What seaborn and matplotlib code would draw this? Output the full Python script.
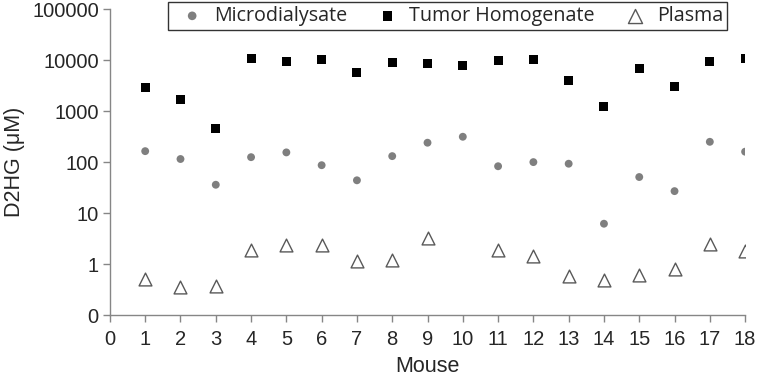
import numpy as np
import pandas as pd
import matplotlib
matplotlib.use("Agg")
import matplotlib.pyplot as plt
import seaborn as sns

# values (uM, log scale)
mouse = list(range(1, 19))
microdialysate = [164, 115, 36, 125, 155, 87, 44, 131, 240, 314, 83, 100, 93, 6.2, 51, 27, 250, 160]
tumor_homogenate = [2900, 1700, 460, 10800, 9300, 10400, 5700, 8800, 8600, 7900, 9700, 10100,
                    4000, 1250, 6900, 3100, 9400, 10800]
plasma = [0.51, 0.35, 0.38, 1.9, 2.35, 2.35, 1.15, 1.2, 3.3, np.nan, 1.9, 1.43,
          0.59, 0.48, 0.61, 0.79, 2.46, 1.78]

y_ticks = [0.1, 1, 10, 100, 1000, 10000, 100000]
y_tick_labels = ["0", "1", "10", "100", "1000", "10000", "100000"]

df = pd.DataFrame({"mouse": mouse, "micro": microdialysate,
                   "tumor": tumor_homogenate, "plasma": plasma})

sns.set_style("white")
plt.rcParams["font.family"] = ["Liberation Sans", "DejaVu Sans"]

fig = plt.figure(figsize=(7.58, 3.77), dpi=100)
ax = fig.add_axes([0.145, 0.164, 0.838, 0.812])

sns.scatterplot(data=df, x="mouse", y="micro", ax=ax, marker="o", s=32,
                color="#7f7f7f", edgecolor="none", label="Microdialysate")
sns.scatterplot(data=df, x="mouse", y="tumor", ax=ax, marker="s", s=42,
                color="black", edgecolor="none", label="Tumor Homogenate")
sns.scatterplot(data=df.dropna(), x="mouse", y="plasma", ax=ax, marker="^", s=85,
                facecolor="white", edgecolor="#595959", linewidth=1, label="Plasma")

ax.set_yscale("log")
ax.set_ylim(0.1, 100000)
ax.set_xlim(0, 18)
ax.set_yticks(y_ticks)
ax.set_yticklabels(y_tick_labels)
ax.yaxis.set_minor_locator(matplotlib.ticker.NullLocator())
ax.set_xticks(range(0, 19))

ax.set_xlabel("Mouse", fontsize=15.5, labelpad=5)
ax.set_ylabel("D2HG (\u03bcM)", fontsize=15.5, labelpad=5)
ax.tick_params(axis="both", labelsize=14.5, length=5, width=1, color="#868686",
               direction="out", left=True, bottom=True)
ax.tick_params(axis="x", pad=6)
ax.tick_params(axis="y", pad=3)

for side in ["top", "right"]:
    ax.spines[side].set_visible(False)
for side in ["left", "bottom"]:
    ax.spines[side].set_color("#868686")
    ax.spines[side].set_linewidth(1)

leg = ax.legend(loc="upper center", bbox_to_anchor=(0.532, 1.055), ncol=3, frameon=True,
                fancybox=False, edgecolor="black", handletextpad=0.1, markerscale=1.1,
                columnspacing=1.05, borderpad=0.2, prop={"family": "Open Sans", "size": 14.2})
leg.get_frame().set_linewidth(1)

fig.savefig("out.png", dpi=100)
